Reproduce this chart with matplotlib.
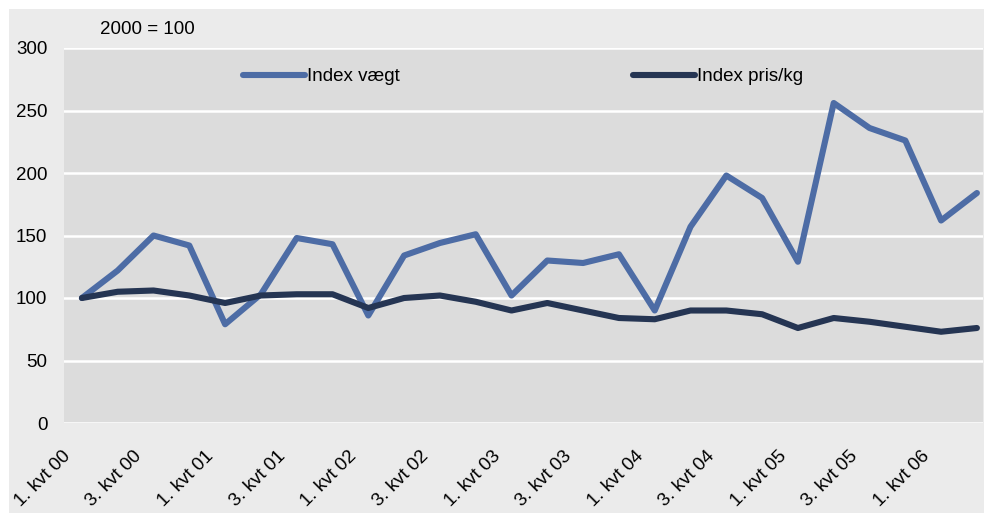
import matplotlib.pyplot as plt
import matplotlib.transforms as mtransforms
from matplotlib.patches import Rectangle

plt.rcParams['font.family'] = ['Liberation Sans', 'DejaVu Sans']

quarters = [f'{q}. kvt {y:02d}' for y in range(0, 7) for q in (1, 2, 3, 4)][:26]
index_vaegt = [100, 122, 150, 142, 79, 103, 148, 143, 86, 134, 144, 151, 102,
               130, 128, 135, 90, 157, 198, 180, 129, 256, 236, 226, 162, 184]
index_pris = [100, 105, 106, 102, 96, 102, 103, 103, 92, 100, 102, 97, 90,
              96, 90, 84, 83, 90, 90, 87, 76, 84, 81, 77, 73, 76]
y_ticks = [0, 50, 100, 150, 200, 250, 300]

W, H = 984, 513
FS = 13.5
fig = plt.figure(figsize=(W / 100, H / 100), dpi=100)
fig.patch.set_facecolor('white')
fig.add_artist(Rectangle((9 / W, 0), 1 - 9 / W, 1 - 9 / H, transform=fig.transFigure,
                         facecolor='#ebebeb', edgecolor='none', zorder=-1))

ax = fig.add_axes([64 / W, 1 - 423 / H, (983 - 64) / W, 375 / H])
ax.set_facecolor('#dcdcdc')

x = list(range(len(index_vaegt)))
h1, = ax.plot(x, index_vaegt, color='#4d6ca5', lw=4.4,
              solid_capstyle='round', solid_joinstyle='round', zorder=3)
h2, = ax.plot(x, index_pris, color='#253553', lw=4.4,
              solid_capstyle='round', solid_joinstyle='round', zorder=4)

ax.set_xlim(-0.5, 25.17)
ax.set_ylim(0, 300)
ax.set_yticks(y_ticks)
ax.yaxis.grid(True, color='white', lw=1.8)
ax.set_axisbelow(True)
for s in ax.spines.values():
    s.set_visible(False)
ax.tick_params(length=0, labelsize=FS)
ax.tick_params(axis='y', pad=12)

ax.set_xticks(x[::2])
ax.set_xticklabels(quarters[::2], rotation=45, ha='right', va='top')
ax.tick_params(axis='x', pad=18)
offset = mtransforms.ScaledTranslation(-0.08, 0, fig.dpi_scale_trans)
for lbl in ax.get_xticklabels():
    lbl.set_transform(lbl.get_transform() + offset)

leg1 = ax.legend([h1], ['Index vægt'], loc='center left', bbox_to_anchor=(0.195, 0.923),
                 frameon=False, borderpad=0, borderaxespad=0, handlelength=3.3,
                 handletextpad=0.1, fontsize=FS)
ax.add_artist(leg1)
ax.legend([h2], ['Index pris/kg'], loc='center left', bbox_to_anchor=(0.619, 0.923),
          frameon=False, borderpad=0, borderaxespad=0, handlelength=3.3,
          handletextpad=0.1, fontsize=FS)

fig.text(100 / W, 1 - 30 / H, '2000 = 100', ha='left', va='center', fontsize=FS)

fig.savefig('out.png', dpi=100, facecolor=fig.get_facecolor())
